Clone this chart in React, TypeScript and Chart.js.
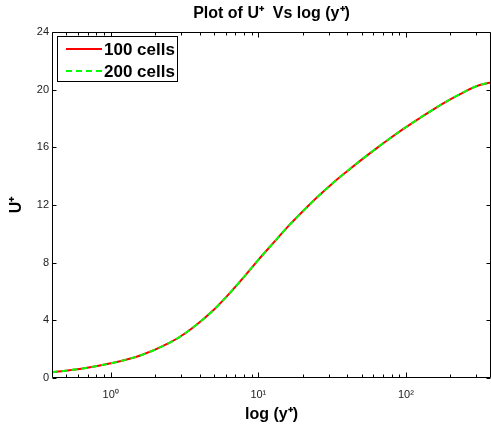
import React, { useEffect, useRef } from 'react';
import { Chart, registerables } from 'chart.js';

Chart.register(...registerables);

// ---- data ----
const yPlus = [0.398, 0.631, 1.0, 1.585, 2.512, 3.162, 3.981, 5.012, 6.31, 7.943, 10, 12.59, 15.85, 19.95, 25.12, 31.62, 39.81, 50.12, 63.1, 79.43, 100, 125.9, 158.5, 199.5, 251.2, 316.2, 377];
const uPlus100 = [0.40, 0.64, 1.02, 1.56, 2.45, 3.07, 3.85, 4.75, 5.82, 6.98, 8.2, 9.35, 10.5, 11.55, 12.55, 13.48, 14.33, 15.15, 15.93, 16.68, 17.4, 18.07, 18.72, 19.32, 19.87, 20.32, 20.5];
const uPlus200 = [0.40, 0.64, 1.02, 1.56, 2.45, 3.07, 3.85, 4.75, 5.82, 6.98, 8.2, 9.35, 10.5, 11.55, 12.55, 13.48, 14.33, 15.15, 15.93, 16.68, 17.4, 18.07, 18.72, 19.32, 19.87, 20.32, 20.5];
const seriesNames = ['100 cells', '200 cells'];
const seriesColors = ['#ff0000', '#00ff00'];
const xMajorTicks = [1, 10, 100];
const xTickLabels = ['10\u2070', '10\u00b9', '10\u00b2'];
const yTicks = [0, 4, 8, 12, 16, 20, 24];
const xMin = 0.4;
const xMax = 377;
const yMin = 0;
const yMax = 24;
const chartTitle = 'Plot of U\u207a  Vs log (y\u207a)';
const xTitle = 'log (y\u207a)';
const yTitle = 'U\u207a';

const FONT = '"Liberation Sans", Arial, Helvetica, sans-serif';

const framePlugin = {
  id: 'matlabFrame',
  afterDatasetsDraw(chart: any) {
    const { ctx, chartArea } = chart;
    const xs = chart.scales.x;
    const ys = chart.scales.y;
    const L = Math.round(chartArea.left) + 0.5;
    const R = Math.round(chartArea.right) - 0.5;
    const T = Math.round(chartArea.top) + 0.5;
    const B = Math.round(chartArea.bottom) - 0.5;
    ctx.save();
    ctx.strokeStyle = '#000';
    ctx.lineWidth = 1;
    ctx.beginPath();
    ctx.rect(L, T, R - L, B - T);
    ctx.stroke();
    const minors: number[] = [];
    [0.1, 1, 10, 100].forEach((d) => {
      for (let m = 2; m <= 9; m++) {
        const v = m * d;
        if (v > xMin && v < xMax) minors.push(v);
      }
    });
    ctx.beginPath();
    xMajorTicks.forEach((v) => {
      const px = Math.round(xs.getPixelForValue(v)) + 0.5;
      ctx.moveTo(px, B); ctx.lineTo(px, B - 5);
      ctx.moveTo(px, T); ctx.lineTo(px, T + 5);
    });
    minors.forEach((v) => {
      const px = Math.round(xs.getPixelForValue(v)) + 0.5;
      ctx.moveTo(px, B); ctx.lineTo(px, B - 3);
      ctx.moveTo(px, T); ctx.lineTo(px, T + 3);
    });
    yTicks.forEach((v) => {
      const py = Math.round(ys.getPixelForValue(v)) + 0.5;
      ctx.moveTo(L, py); ctx.lineTo(L + 4, py);
      ctx.moveTo(R, py); ctx.lineTo(R - 4, py);
    });
    ctx.stroke();

    // legend box
    const bx = 57.5, by = 36.5, bw = 120, bh = 45;
    ctx.fillStyle = '#fff';
    ctx.fillRect(bx, by, bw, bh);
    ctx.strokeStyle = '#000';
    ctx.lineWidth = 1;
    ctx.strokeRect(bx, by, bw, bh);
    ctx.font = 'bold 17px ' + FONT;
    ctx.textBaseline = 'middle';
    ctx.textAlign = 'left';
    seriesNames.forEach((name, i) => {
      const ly = 49 + i * 22;
      ctx.beginPath();
      ctx.strokeStyle = seriesColors[i];
      ctx.lineWidth = 2;
      ctx.setLineDash(i === 1 ? [6, 4] : []);
      ctx.moveTo(66, ly);
      ctx.lineTo(102, ly);
      ctx.stroke();
      ctx.setLineDash([]);
      ctx.fillStyle = '#000';
      ctx.fillText(name, 104, ly + 1);
    });
    ctx.restore();
  },
};

export default function App() {
  const ref = useRef<HTMLCanvasElement>(null);
  useEffect(() => {
    if (!ref.current) return;
    const chart = new Chart(ref.current, {
      type: 'line',
      data: {
        datasets: [
          {
            label: seriesNames[0],
            data: yPlus.map((x, i) => ({ x, y: uPlus100[i] })),
            borderColor: seriesColors[0],
            borderWidth: 2,
            pointRadius: 0,
            cubicInterpolationMode: 'monotone',
            fill: false,
            order: 1,
          },
          {
            label: seriesNames[1],
            data: yPlus.map((x, i) => ({ x, y: uPlus200[i] })),
            borderColor: seriesColors[1],
            borderWidth: 2,
            borderDash: [6, 4],
            pointRadius: 0,
            cubicInterpolationMode: 'monotone',
            fill: false,
            order: 0,
          },
        ],
      },
      options: {
        animation: false,
        responsive: false,
        devicePixelRatio: 1,
        layout: { padding: 0 },
        plugins: {
          legend: { display: false },
          tooltip: { enabled: false },
          title: {
            display: true,
            text: chartTitle,
            fullSize: false,
            color: '#000',
            font: { family: FONT, size: 16, weight: 'bold' },
            padding: { top: 4, bottom: 8.8 },
          },
        },
        scales: {
          x: {
            type: 'logarithmic',
            min: xMin,
            max: xMax,
            grid: { display: false, drawTicks: false },
            border: { display: false },
            afterBuildTicks: (scale: any) => {
              scale.ticks = xMajorTicks.map((v) => ({ value: v }));
            },
            afterFit: (scale: any) => {
              scale.height = 51;
            },
            ticks: {
              autoSkip: false,
              maxRotation: 0,
              padding: 10,
              color: '#222',
              font: { family: FONT, size: 11 },
              callback: (v: any) => {
                const i = xMajorTicks.indexOf(Number(v));
                return i >= 0 ? xTickLabels[i] : '';
              },
            },
            title: {
              display: true,
              text: xTitle,
              color: '#000',
              font: { family: FONT, size: 16, weight: 'bold' },
              padding: { top: 0, bottom: 5 },
            },
          },
          y: {
            type: 'linear',
            min: yMin,
            max: yMax,
            grid: { display: false, drawTicks: false },
            border: { display: false },
            afterBuildTicks: (scale: any) => {
              scale.ticks = yTicks.map((v) => ({ value: v }));
            },
            afterFit: (scale: any) => {
              scale.width = 52;
            },
            ticks: {
              autoSkip: false,
              padding: 3,
              color: '#222',
              font: { family: FONT, size: 11 },
            },
            title: {
              display: true,
              text: yTitle,
              color: '#000',
              font: { family: FONT, size: 16, weight: 'bold' },
              padding: { top: 7, bottom: 0 },
            },
          },
        },
      },
      plugins: [framePlugin],
    } as any);
    return () => chart.destroy();
  }, []);
  return (
    <div style={{ position: 'fixed', left: 0, top: 0, width: 491, height: 429, background: '#fff' }}>
      <canvas ref={ref} width={491} height={429} />
    </div>
  );
}
